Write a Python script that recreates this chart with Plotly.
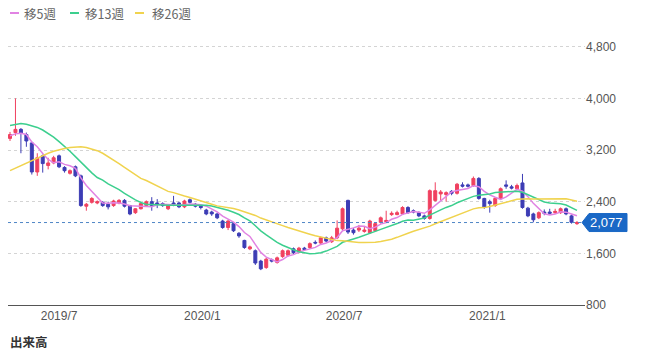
import pandas as pd
import plotly.graph_objects as go

# weekly candles (Monday of each week)
dates = pd.date_range("2019-04-29", periods=105, freq="7D")

opens = [3380, 3470, 3520, 3440, 3310, 2860, 3110, 2960, 3000, 3110,
         2930, 2840, 2940, 2800, 2330, 2390, 2380, 2390, 2360, 2340,
         2380, 2420, 2340, 2230, 2290, 2340, 2400, 2380, 2370, 2290,
         2380, 2380, 2320, 2430, 2360, 2330, 2270, 2240, 2210, 2100,
         2000, 2060, 1910, 1800, 1670, 1640, 1480, 1380, 1500, 1460,
         1550, 1570, 1670, 1620, 1680, 1690, 1770, 1760, 1840, 1780,
         1840, 1980, 2420, 1960, 1960, 1940, 1920, 1950, 2080, 2090,
         2200, 2200, 2210, 2310, 2260, 2230, 2180, 2140, 2420, 2520,
         2510, 2560, 2530, 2660, 2660, 2650, 2760, 2450, 2400, 2340,
         2450, 2660, 2630, 2600, 2690, 2300, 2210, 2150, 2240, 2240,
         2230, 2230, 2290, 2180, 2060]
highs = [3480, 4000, 3540, 3470, 3330, 3150, 3130, 3080, 3110, 3130,
         2950, 2900, 2960, 2820, 2380, 2470, 2420, 2410, 2400, 2430,
         2440, 2440, 2350, 2300, 2390, 2420, 2470, 2440, 2390, 2360,
         2490, 2400, 2430, 2450, 2380, 2340, 2290, 2260, 2230, 2120,
         2120, 2080, 1930, 1810, 1720, 1660, 1500, 1530, 1520, 1550,
         1660, 1660, 1690, 1700, 1700, 1770, 1800, 1860, 1860, 1870,
         2110, 2310, 2430, 1990, 2040, 2020, 2120, 2080, 2170, 2260,
         2250, 2260, 2330, 2330, 2280, 2250, 2200, 2590, 2700, 2580,
         2560, 2580, 2690, 2700, 2680, 2790, 2780, 2460, 2430, 2470,
         2620, 2730, 2660, 2680, 2830, 2320, 2230, 2250, 2280, 2290,
         2290, 2310, 2310, 2200, 2100]
lows = [3340, 3420, 3150, 3250, 2820, 2800, 2850, 2900, 2980, 2920,
        2850, 2820, 2780, 2320, 2260, 2370, 2360, 2320, 2280, 2320,
        2360, 2310, 2190, 2210, 2280, 2320, 2260, 2300, 2320, 2270,
        2330, 2300, 2300, 2370, 2310, 2280, 2190, 2180, 2130, 1980,
        1960, 1930, 1840, 1670, 1650, 1420, 1340, 1360, 1460, 1440,
        1530, 1550, 1590, 1600, 1640, 1670, 1740, 1740, 1770, 1760,
        1820, 1960, 1900, 1890, 1930, 1920, 1900, 1940, 2060, 2070,
        2180, 2190, 2200, 2210, 2220, 2160, 2120, 2120, 2400, 2420,
        2400, 2500, 2510, 2620, 2620, 2630, 2430, 2290, 2230, 2320,
        2430, 2600, 2590, 2580, 2290, 2160, 2080, 2130, 2190, 2200,
        2210, 2210, 2190, 2060, 2040]
closes = [3440, 3520, 3460, 3340, 2860, 3080, 2990, 3000, 3080, 2940,
          2880, 2880, 2800, 2340, 2360, 2450, 2400, 2340, 2320, 2410,
          2420, 2330, 2210, 2290, 2370, 2400, 2340, 2360, 2340, 2340,
          2360, 2320, 2410, 2390, 2330, 2310, 2210, 2210, 2150, 2000,
          2100, 1950, 1870, 1690, 1700, 1450, 1360, 1510, 1480, 1530,
          1640, 1640, 1610, 1680, 1660, 1750, 1760, 1840, 1790, 1840,
          1990, 2290, 1930, 1920, 1990, 1960, 2100, 2060, 2150, 2110,
          2220, 2230, 2310, 2230, 2240, 2180, 2140, 2570, 2570, 2550,
          2540, 2530, 2670, 2640, 2640, 2760, 2450, 2310, 2370, 2450,
          2600, 2640, 2610, 2650, 2310, 2180, 2120, 2230, 2220, 2220,
          2250, 2290, 2210, 2080, 2077]

ma5 = [3420, 3450, 3460, 3440, 3324, 3252, 3146, 3054, 3002, 3018,
       2978, 2956, 2916, 2768, 2652, 2566, 2470, 2378, 2374, 2384,
       2378, 2364, 2338, 2332, 2324, 2320, 2322, 2352, 2362, 2356,
       2348, 2344, 2354, 2364, 2362, 2352, 2330, 2290, 2242, 2176,
       2134, 2082, 2014, 1922, 1862, 1732, 1614, 1542, 1500, 1466,
       1504, 1560, 1580, 1620, 1646, 1668, 1692, 1738, 1760, 1796,
       1844, 1950, 1968, 1994, 2024, 2018, 1980, 2006, 2052, 2076,
       2128, 2154, 2204, 2220, 2246, 2238, 2220, 2272, 2340, 2402,
       2474, 2552, 2572, 2586, 2604, 2648, 2632, 2560, 2506, 2468,
       2436, 2474, 2534, 2590, 2562, 2478, 2374, 2298, 2212, 2194,
       2208, 2242, 2238, 2210, 2181]
ma13 = [3580, 3600, 3610, 3600, 3580, 3550, 3510, 3460, 3400, 3330,
        3260, 3180, 3098, 3013, 2924, 2846, 2774, 2734, 2675, 2631,
        2586, 2528, 2472, 2427, 2388, 2357, 2357, 2357, 2348, 2344,
        2345, 2345, 2345, 2343, 2343, 2351, 2345, 2332, 2313, 2287,
        2267, 2237, 2201, 2149, 2102, 2028, 1948, 1885, 1822, 1769,
        1725, 1686, 1656, 1624, 1602, 1592, 1598, 1608, 1635, 1672,
        1708, 1771, 1802, 1823, 1850, 1877, 1909, 1940, 1971, 1998,
        2027, 2061, 2097, 2115, 2112, 2131, 2148, 2192, 2239, 2274,
        2311, 2340, 2383, 2415, 2447, 2482, 2498, 2504, 2518, 2542,
        2545, 2550, 2555, 2563, 2546, 2508, 2468, 2437, 2395, 2378,
        2373, 2367, 2348, 2308, 2265]
ma26 = [2880, 2920, 2960, 3000, 3040, 3080, 3115, 3150, 3180, 3205,
        3225, 3240, 3250, 3250, 3240, 3220, 3190, 3150, 3100, 3050,
        2990, 2930, 2870, 2810, 2760, 2727, 2685, 2640, 2597, 2559,
        2540, 2510, 2488, 2465, 2436, 2412, 2386, 2360, 2335, 2322,
        2312, 2293, 2272, 2247, 2223, 2187, 2146, 2114, 2086, 2057,
        2029, 2000, 1972, 1945, 1919, 1897, 1873, 1855, 1831, 1810,
        1797, 1796, 1785, 1774, 1768, 1767, 1767, 1771, 1782, 1798,
        1818, 1848, 1884, 1912, 1941, 1966, 1985, 2021, 2058, 2092,
        2125, 2155, 2190, 2221, 2254, 2289, 2307, 2308, 2325, 2345,
        2368, 2395, 2414, 2437, 2443, 2446, 2442, 2442, 2438, 2438,
        2438, 2443, 2445, 2427, 2408]

ma_names = ["移5週", "移13週", "移26週"]
ma_colors = ["#e183e3", "#3ccf8e", "#f0d34e"]
y_ticks = [800, 1600, 2400, 3200, 4000, 4800]
x_tickvals = ["2019-07-01", "2020-01-01", "2020-07-01", "2021-01-01"]
x_ticktext = ["2019/7", "2020/1", "2020/7", "2021/1"]
last_price = 2077

UP = "#f0405f"
DOWN = "#3d3db5"
FONT = "Liberation Sans, Noto Sans CJK JP, sans-serif"

fig = go.Figure()
fig.add_trace(go.Candlestick(
    x=dates, open=opens, high=highs, low=lows, close=closes,
    increasing=dict(line=dict(color=UP, width=1), fillcolor=UP),
    decreasing=dict(line=dict(color=DOWN, width=1), fillcolor=DOWN),
    whiskerwidth=0, showlegend=False, name="週足"))

for vals, name, col in zip([ma5, ma13, ma26], ma_names, ma_colors):
    fig.add_trace(go.Scatter(x=dates, y=vals, mode="lines", name=name,
                             line=dict(color=col, width=1.5), showlegend=False))

# plot area: x 8..585, y 30..305  (px)
L, R, T, B = 8, 65, 30, 48
W, H = 650 - L - R, 353 - T - B

def px_x(p):
    return (p - L) / W

def px_y(p):
    return (353 - B - p) / H

shapes = []
annotations = []
# custom legend
leg = [(10, 19, 22), (70, 79, 83), (135, 144, 150)]
for (a, b, t), name, col in zip(leg, ma_names, ma_colors):
    shapes.append(dict(type="line", xref="paper", yref="paper",
                       x0=px_x(a), x1=px_x(b), y0=px_y(13), y1=px_y(13),
                       line=dict(color=col, width=2)))
    annotations.append(dict(xref="paper", yref="paper", x=px_x(t), y=px_y(13),
                            text=name, showarrow=False, xanchor="left", yanchor="middle",
                            font=dict(family="Noto Sans CJK JP", size=12.5, color="#666")))

# current price line and label
shapes.append(dict(type="line", xref="paper", yref="y", x0=0, x1=px_x(582),
                   y0=last_price, y1=last_price,
                   line=dict(color="#4f86c6", width=1, dash="3px,3px")))
half = 9 * 800 / 51.66
path = "M {a},{y} L {b},{t} L {c},{t} L {c},{bt} L {b},{bt} Z".format(
    a=px_x(582), b=px_x(589), c=px_x(627), y=last_price,
    t=last_price + half, bt=last_price - half)
shapes.append(dict(type="path", xref="paper", yref="y", path=path,
                   fillcolor="#1a68c6", line=dict(color="#1a68c6", width=1)))
annotations.append(dict(xref="paper", yref="y", x=px_x(607), y=last_price,
                        text=f"{last_price:,}", showarrow=False, xanchor="center",
                        yanchor="middle", font=dict(family=FONT, size=13, color="white")))
annotations.append(dict(xref="paper", yref="paper", x=0, y=px_y(352.5),
                        text="<b>出来高</b>", showarrow=False, xanchor="left", yanchor="bottom",
                        font=dict(family="Noto Sans CJK JP", size=12.5, color="#333")))

fig.update_layout(
    width=650, height=353,
    margin=dict(l=L, r=R, t=T, b=B),
    paper_bgcolor="white", plot_bgcolor="white",
    font=dict(family=FONT, size=12, color="#555"),
    shapes=shapes, annotations=annotations,
    showlegend=False, hovermode=False, boxgap=0.22,
)
fig.update_xaxes(
    type="date", range=["2019-04-26 10:00", "2021-05-06 07:00"],
    rangeslider=dict(visible=False),
    tickvals=x_tickvals, ticktext=x_ticktext, ticks="",
    showgrid=False, showline=True, linecolor="#555", linewidth=1,
    zeroline=False, tickfont=dict(size=12, color="#555"),
)
fig.update_yaxes(
    side="right", range=[800, 800 + H * 800 / 51.66],
    tickvals=y_ticks, ticktext=[f"{v:,}" for v in y_ticks], ticks="",
    showgrid=True, gridcolor="#d4d4d4", griddash="3px,3px", gridwidth=1,
    zeroline=False, showline=False, tickfont=dict(size=12, color="#555"),
)

fig.write_html("out.html", config={"displayModeBar": False})
